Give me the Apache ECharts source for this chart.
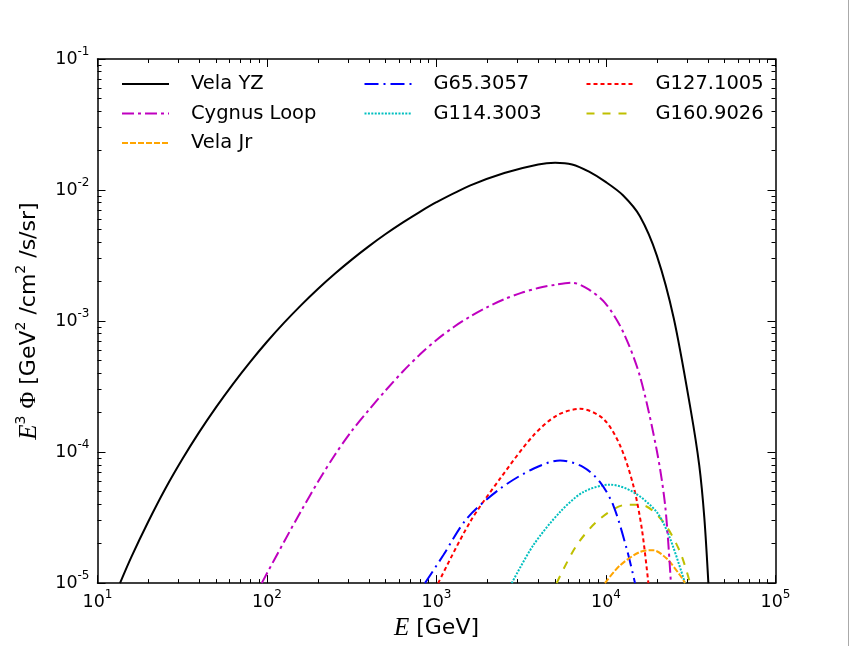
<!DOCTYPE html>
<html>
<head>
<meta charset="utf-8">
<script src="https://cdn.jsdelivr.net/npm/echarts@6/dist/echarts.min.js"></script>
<style>
html,body{margin:0;padding:0;background:#ffffff;}
#chart{width:867px;height:646px;}
</style>
</head>
<body>
<div id="chart"></div>
<script>
// ---- data: [E (GeV), E^3 Phi (GeV^2/cm^2/s/sr)] ----
const velaYZ = [
  [13.58,1.0e-5],[15.85,1.585e-5],[19.95,2.951e-5],[25.12,5.248e-5],[31.62,8.81e-5],
  [39.81,1.419e-4],[50.12,2.203e-4],[63.10,3.319e-4],[79.43,4.864e-4],[100,6.95e-4],
  [125.9,9.68e-4],[158.5,1.318e-3],[199.5,1.758e-3],[251.2,2.296e-3],[316.2,2.944e-3],
  [398.1,3.715e-3],[501.2,4.613e-3],[631.0,5.636e-3],[794.3,6.79e-3],[1000,8.07e-3],
  [1585,1.084e-2],[2512,1.349e-2],[3981,1.567e-2],[5012,1.614e-2],[6310,1.567e-2],
  [7943,1.380e-2],[10000,1.148e-2],[12590,9.12e-3],[15850,6.31e-3],[19950,3.16e-3],
  [25120,1.047e-3],[31620,2.089e-4],[35480,7.94e-5],[38020,3.162e-5],[40180,1.0e-5]
];
const cygnusLoop = [
  [93.1,1.0e-5],[125.9,2.061e-5],[158.5,3.532e-5],[199.5,5.90e-5],[251.2,9.51e-5],
  [316.2,1.449e-4],[398.1,2.089e-4],[501.2,2.958e-4],[631.0,4.102e-4],[794.3,5.521e-4],
  [1000,7.178e-4],[1259,8.974e-4],[1585,1.086e-3],[1995,1.279e-3],[2512,1.469e-3],
  [3162,1.641e-3],[3981,1.786e-3],[5012,1.892e-3],[6310,1.959e-3],[7943,1.738e-3],
  [10000,1.349e-3],[12590,8.32e-4],[15850,3.80e-4],[19950,1.023e-4],[22390,3.80e-5],
  [24150,1.0e-5]
];
const velaJr = [
  [9863,1.0e-5],[12110,1.368e-5],[15890,1.73e-5],[19010,1.78e-5],[22800,1.538e-5],
  [27350,1.148e-5],[29240,1.0e-5]
];
const g65 = [
  [855,1.0e-5],[1096,1.63e-5],[1507,3.10e-5],[2371,5.25e-5],[3724,7.46e-5],
  [5358,8.63e-5],[7345,7.69e-5],[9226,5.90e-5],[11040,3.92e-5],[13240,1.83e-5],
  [14830,1.0e-5]
];
const g114 = [
  [2780,1.0e-5],[3724,1.945e-5],[5358,3.49e-5],[7345,4.95e-5],[10570,5.64e-5],
  [14490,4.95e-5],[19910,3.49e-5],[23880,2.19e-5],[29240,1.0e-5]
];
const g127 = [
  [1023,1.0e-5],[1578,2.93e-5],[2371,6.27e-5],[3724,1.336e-4],[5117,1.901e-4],
  [7031,2.14e-4],[9638,1.795e-4],[12110,1.122e-4],[14490,5.57e-5],[16260,2.61e-5],
  [17780,1.0e-5]
];
const g160 = [
  [5117,1.0e-5],[6714,1.945e-5],[9226,3.10e-5],[13240,3.97e-5],[16600,3.92e-5],
  [21780,2.93e-5],[27350,1.73e-5],[31330,1.0e-5]
];

const seriesNames = ['Vela YZ','Cygnus Loop','Vela Jr','G65.3057','G114.3003','G127.1005','G160.9026'];
const xMajorTicks = [10,100,1000,10000,100000];
const yMajorTicks = [1e-5,1e-4,1e-3,1e-2,1e-1];

function minorTicks(lo, hi){
  const out = [];
  for (let d = lo; d < hi; d++) {
    for (let m = 2; m <= 9; m++) out.push(m * Math.pow(10, d));
  }
  return out;
}
const xMinorTicks = minorTicks(1, 5);
const yMinorTicks = minorTicks(-5, -1);

const styles = [
  {color:'#000000', type:'solid', width:2},
  {color:'#bf00bf', type:[12,4,3,4], width:2},
  {color:'#ffa500', type:[6,2], width:2},
  {color:'#0000ff', type:[14,5,2,5], width:2},
  {color:'#00bfbf', type:[2,1.4], width:2},
  {color:'#ff0000', type:[4,3], width:2},
  {color:'#bfbf00', type:[8,8], width:2}
];
const dataSets = [velaYZ, cygnusLoop, velaJr, g65, g114, g127, g160];

const sansFont = 'DejaVu Sans';
const labelRich = {
  b:{fontSize:17.5, fontFamily:sansFont, color:'#000', lineHeight:26},
  s:{fontSize:12, fontFamily:sansFont, color:'#000', lineHeight:12, verticalAlign:'top'}
};
function powLabel(v){
  const e = Math.round(Math.log10(v));
  return '{b|10}{s|' + e + '}';
}
const frameLine = {show:true, lineStyle:{color:'#000', width:1.5}};

function majorAxis(pos, isX, withLabel){
  return {
    type:'log', logBase:10, position:pos,
    min: isX ? 10 : 1e-5, max: isX ? 1e5 : 1e-1,
    axisLine: frameLine,
    axisTick:{show:true, inside:true, length:8, lineStyle:{color:'#000', width:1}, customValues: isX ? xMajorTicks : yMajorTicks},
    axisLabel: withLabel ? {show:true, formatter:powLabel, rich:labelRich, margin: isX ? 6 : 8, customValues: isX ? xMajorTicks : yMajorTicks} : {show:false},
    splitLine:{show:false}, minorTick:{show:false}, minorSplitLine:{show:false}
  };
}
function minorAxis(pos, isX){
  return {
    type:'log', logBase:10, position:pos,
    min: isX ? 10 : 1e-5, max: isX ? 1e5 : 1e-1,
    axisLine:{show:false},
    axisTick:{show:true, inside:true, length:4, lineStyle:{color:'#000', width:1}, customValues: isX ? xMinorTicks : yMinorTicks},
    axisLabel:{show:false},
    splitLine:{show:false}
  };
}

const xAxes = [majorAxis('bottom', true, true), majorAxis('top', true, false), minorAxis('bottom', true), minorAxis('top', true)];
xAxes[0].name = '{i|E} [GeV]';
xAxes[0].nameLocation = 'middle';
xAxes[0].nameGap = 30;
xAxes[0].nameTextStyle = {fontSize:22, fontFamily:sansFont, color:'#000',
  rich:{i:{fontSize:25, fontFamily:'Liberation Serif', fontStyle:'italic', color:'#000'}}};

const yAxes = [majorAxis('left', false, true), majorAxis('right', false, false), minorAxis('left', false), minorAxis('right', false)];
yAxes[0].name = '{i|E}{sup|3} {p|Φ} [GeV{sup|2} /cm{sup|2} /s/sr]';
yAxes[0].nameLocation = 'middle';
yAxes[0].nameRotate = 90;
yAxes[0].nameGap = 52;
yAxes[0].nameTextStyle = {fontSize:22, fontFamily:sansFont, color:'#000', lineHeight:30,
  rich:{
    i:{fontSize:25, fontFamily:'Liberation Serif', fontStyle:'italic', color:'#000', lineHeight:30},
    p:{fontSize:23, fontFamily:'Liberation Serif', color:'#000', lineHeight:30},
    sup:{fontSize:14, fontFamily:sansFont, color:'#000', lineHeight:14, verticalAlign:'top'}
  }};

const series = dataSets.map((d, i) => ({
  name: seriesNames[i],
  type:'line',
  data: d,
  xAxisIndex:0, yAxisIndex:0,
  showSymbol:false, symbol:'none',
  smooth:0.3,
  clip:true,
  lineStyle:{color:styles[i].color, type:styles[i].type, width:styles[i].width},
  itemStyle:{color:styles[i].color},
  emphasis:{disabled:true},
  animation:false,
  z: 10 - i
}));

const legendText = {fontSize:19.5, fontFamily:sansFont, color:'#000', lineHeight:20, padding:[0,0,0,17]};
function legendCol(names, left){
  return {
    data:names, left:left, top:74, orient:'vertical',
    itemWidth:47, itemHeight:14, itemGap:9.5, padding:0,
    selectedMode:false, textStyle:legendText,
    itemStyle:{opacity:0}
  };
}

const option = {
  backgroundColor:'#ffffff',
  animation:false,
  grid:{left:97.5, top:59, width:678, height:526, containLabel:false, show:false},
  xAxis: xAxes,
  yAxis: yAxes,
  legend:[
    legendCol(['Vela YZ','Cygnus Loop','Vela Jr'], 121),
    legendCol(['G65.3057','G114.3003'], 363.5),
    legendCol(['G127.1005','G160.9026'], 585.5)
  ],
  graphic:[
    {type:'line', shape:{x1:848.5, y1:0, x2:848.5, y2:646}, style:{stroke:'#aaaaaa', lineWidth:1}, silent:true}
  ],
  series: series
};

const chart = echarts.init(document.getElementById('chart'), null, {renderer:'canvas'});
chart.setOption(option);
</script>
</body>
</html>
